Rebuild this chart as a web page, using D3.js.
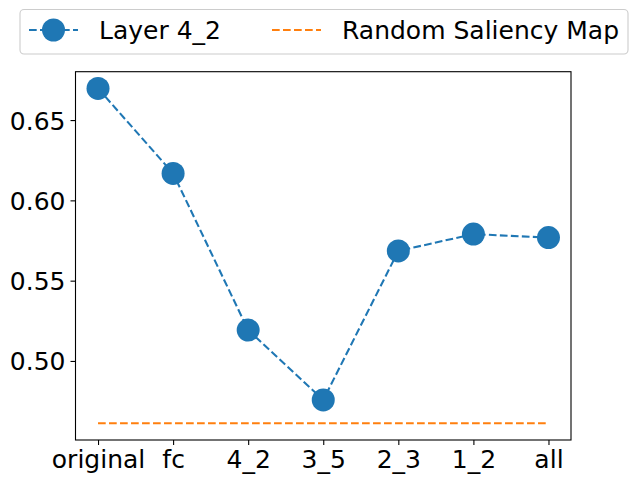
<!DOCTYPE html>
<html><head><meta charset="utf-8">
<script src="https://cdn.jsdelivr.net/npm/d3@7"></script>
<style>body{margin:0;background:#fff}svg{display:block;font-family:"DejaVu Sans",sans-serif}</style>
</head><body>
<svg id="c" width="638" height="484"></svg>
<script>
const categories = ["original","fc","4_2","3_5","2_3","1_2","all"];
const layerValues = [0.6697, 0.6168, 0.5192, 0.4757, 0.5685, 0.5790, 0.5768];
const randomValue = 0.4612;
const yTicks = [0.50, 0.55, 0.60, 0.65];
const seriesNames = ["Layer 4_2", "Random Saliency Map"];

const svg = d3.select("#c");
const L = 75.5, R = 571, T = 71.7, B = 440;
const idx = d3.range(categories.length);
const x = d3.scaleLinear().domain([-0.3, categories.length - 1 + 0.3]).range([L, R]);
const allV = layerValues.concat([randomValue]);
const lo = d3.min(allV), hi = d3.max(allV), pad = (hi - lo) * 0.05;
const y = d3.scaleLinear().domain([lo - pad, hi + pad]).range([B, T]);
const fs = "25px";

// axes
const xa = svg.append("g").attr("transform", `translate(0,${B})`)
  .call(d3.axisBottom(x).tickValues(idx).tickFormat(i => categories[i]).tickSizeOuter(0).tickSize(5).tickPadding(5));
const ya = svg.append("g").attr("transform", `translate(${L},0)`)
  .call(d3.axisLeft(y).tickValues(yTicks).tickFormat(d3.format(".2f")).tickSizeOuter(0).tickSize(5).tickPadding(5));
[xa, ya].forEach(a => {
  a.attr("font-size", null).attr("font-family", null);
  a.select(".domain").remove();
  a.selectAll("line").attr("stroke", "#000").attr("stroke-width", 1.1);
  a.selectAll("text").attr("font-size", fs).attr("fill", "#000").attr("font-family", "DejaVu Sans");
});
xa.selectAll("text").attr("y", 28.3).attr("dy", null);
ya.selectAll("text").attr("dy", "0.36em");

// random line
svg.append("line").attr("x1", x(0)).attr("x2", x(categories.length - 1))
  .attr("y1", y(randomValue)).attr("y2", y(randomValue))
  .attr("stroke", "#ff7f0e").attr("stroke-width", 2.08).attr("stroke-dasharray", "7.7,3.3");

// layer line
const line = d3.line().x((d, i) => x(i)).y(d => y(d));
svg.append("path").datum(layerValues).attr("d", line).attr("fill", "none")
  .attr("stroke", "#1f77b4").attr("stroke-width", 2.08).attr("stroke-dasharray", "7.7,3.3");
svg.selectAll("circle.m").data(layerValues).join("circle").attr("class", "m")
  .attr("cx", (d, i) => x(i)).attr("cy", d => y(d)).attr("r", 11.5).attr("fill", "#1f77b4");

// frame
svg.append("rect").attr("x", L).attr("y", T).attr("width", R - L).attr("height", B - T)
  .attr("fill", "none").attr("stroke", "#000").attr("stroke-width", 1.1);

// legend
const lg = svg.append("g");
lg.append("rect").attr("x", 20).attr("y", 9.5).attr("width", 608).attr("height", 44.5).attr("rx", 4)
  .attr("fill", "#fff").attr("fill-opacity", 0.8).attr("stroke", "#cccccc").attr("stroke-width", 1.1);
const ly = 30;
lg.append("line").attr("x1", 29).attr("x2", 78).attr("y1", ly).attr("y2", ly)
  .attr("stroke", "#1f77b4").attr("stroke-width", 2.08).attr("stroke-dasharray", "7.7,3.3");
lg.append("circle").attr("cx", 53.5).attr("cy", ly).attr("r", 11.5).attr("fill", "#1f77b4");
lg.append("text").attr("x", 99).attr("y", 39.3).attr("font-size", fs).text(seriesNames[0]);
lg.append("line").attr("x1", 272).attr("x2", 321).attr("y1", ly).attr("y2", ly)
  .attr("stroke", "#ff7f0e").attr("stroke-width", 2.08).attr("stroke-dasharray", "7.7,3.3");
lg.append("text").attr("x", 342).attr("y", 39.3).attr("font-size", fs).text(seriesNames[1]);
</script>
</body></html>
